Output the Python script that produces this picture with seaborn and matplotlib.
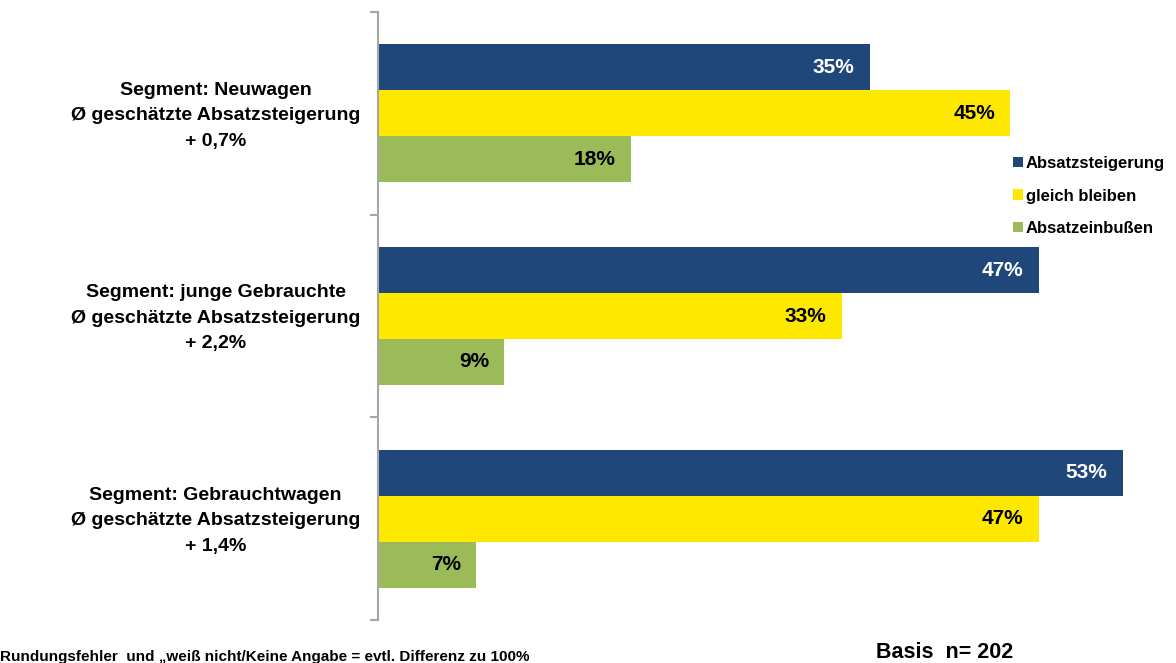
import matplotlib
matplotlib.use("Agg")
import matplotlib.pyplot as plt
import matplotlib.transforms as mtransforms
import seaborn as sns
import pandas as pd
from matplotlib.font_manager import fontManager

segments = ["Segment: Neuwagen\nØ geschätzte Absatzsteigerung\n+ 0,7%",
            "Segment: junge Gebrauchte\nØ geschätzte Absatzsteigerung\n+ 2,2%",
            "Segment: Gebrauchtwagen\nØ geschätzte Absatzsteigerung\n+ 1,4%"]
series = ["Absatzsteigerung", "gleich bleiben", "Absatzeinbußen"]
steigerung = [35, 47, 53]
gleich = [45, 33, 47]
einbussen = [18, 9, 7]
colors = ["#1F477A", "#FFE800", "#9BBB59"]

sns.set_theme(style="white")
names = {f.name for f in fontManager.ttflist}
fam = "Liberation Sans" if "Liberation Sans" in names else "DejaVu Sans"
plt.rcParams["font.family"] = [fam, "DejaVu Sans"]
plt.rcParams["text.color"] = "black"

rows = []
for s, vals in zip(series, [steigerung, gleich, einbussen]):
    for seg, v in zip(segments, vals):
        rows.append({"segment": seg, "serie": s, "wert": v})
df = pd.DataFrame(rows)

fig = plt.figure(figsize=(11.76, 6.63), dpi=100)
ax = fig.add_axes([378/1176, 1 - 620/663, (1165-378)/1176, (620-12)/663])
sns.barplot(data=df, x="wert", y="segment", hue="serie", order=segments,
            hue_order=series, palette=colors, width=0.68, ax=ax,
            orient="h", saturation=1, legend=True, linewidth=0)
ax.set_xlim(0, 56)
ax.set_ylim(2.5, -0.5)
ax.set_xlabel("")
ax.set_ylabel("")
ax.set_xticks([])
for sp in ["top", "right", "bottom"]:
    ax.spines[sp].set_visible(False)
ax.spines["left"].set_color("#A6A6A6")
ax.spines["left"].set_linewidth(1.5)
ax.set_yticks([0, 1, 2])
ax.set_yticklabels(segments, fontsize=14, fontweight="bold", ha="center",
                   color="black", linespacing=1.65)
ax.tick_params(axis="y", which="major", length=0, pad=117)
offset = mtransforms.ScaledTranslation(0, 4/100, fig.dpi_scale_trans)
for lab in ax.get_yticklabels():
    lab.set_transform(lab.get_transform() + offset)
ax.set_yticks([-0.5, 0.5, 1.5, 2.5], minor=True)
ax.tick_params(axis="y", which="minor", length=6, width=1.5, color="#A6A6A6", left=True)

for ci, cont in enumerate(ax.containers):
    col = "white" if ci == 0 else "black"
    for b in cont:
        w = b.get_width()
        ax.annotate(f"{int(round(w))}%", xy=(w, b.get_y() + b.get_height() / 2),
                    xytext=(-11, 0), textcoords="offset points", ha="right",
                    va="center", color=col, fontsize=15, fontweight="bold")

leg = ax.legend(loc="upper left", bbox_to_anchor=(998/1176, 1 - 141/663),
                bbox_transform=fig.transFigure, frameon=False,
                handlelength=0.6, handleheight=0.6, handletextpad=0.15,
                labelspacing=1.05, prop={"size": 12, "weight": "bold", "family": fam})
for t in leg.get_texts():
    t.set_color("black")

fig.text(0/1176, 1 - 657/663, "Rundungsfehler  und „weiß nicht/Keine Angabe = evtl. Differenz zu 100%",
         fontsize=11, fontweight="bold", va="center", ha="left", color="black")
fig.text(876/1176, 1 - 652/663, "Basis  n= 202", fontsize=15.5, fontweight="bold",
         va="center", ha="left", color="black")

fig.savefig("out.png", dpi=100)
